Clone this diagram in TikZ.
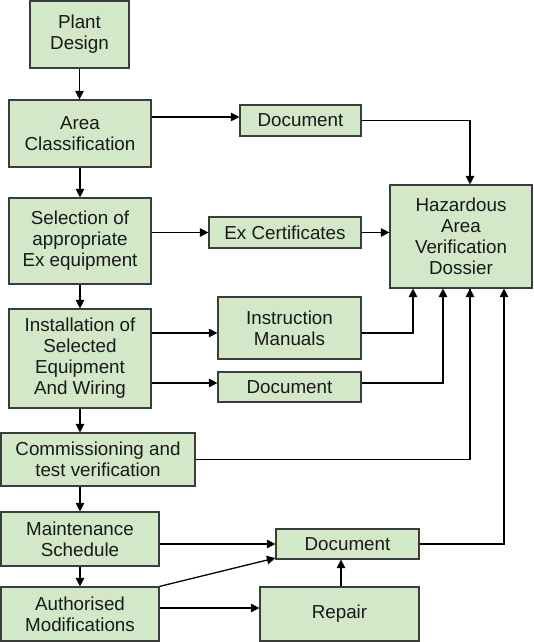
\documentclass[tikz,border=0pt]{standalone}
\usepackage{fontspec}
\setmainfont{Liberation Sans}
\usetikzlibrary{arrows.meta}
\definecolor{boxfill}{RGB}{210,232,200}
\definecolor{boxline}{RGB}{60,60,60}
\definecolor{txt}{RGB}{25,25,25}
\begin{document}
\begin{tikzpicture}[x=1pt,y=-1pt,
  box/.style={draw=boxline,line width=1.2pt,fill=boxfill,rectangle,inner sep=0pt,
    align=center,text=txt,font=\fontsize{18.8}{21}\selectfont},
  conn/.style={line width=1.3pt,draw=black,-{Triangle[length=8.5pt,width=8.5pt]}},
  plain/.style={line width=1.3pt,draw=black}]
\useasboundingbox (0,0) rectangle (533,642);
\node[box,minimum width=99pt,minimum height=67pt] (plant) at (79.5,34.5) {Plant\\Design};
\node[box,minimum width=142pt,minimum height=67pt] (area) at (80,133.5) {Area\\Classification};
\node[box,minimum width=142pt,minimum height=86pt] (sel) at (80,241) {Selection of\\appropriate\\Ex equipment};
\node[box,minimum width=142pt,minimum height=99pt] (inst) at (80,358.5) {Installation of\\Selected\\Equipment\\And Wiring};
\node[box,minimum width=194pt,minimum height=53pt] (comm) at (98,459.5) {Commissioning and\\test verification};
\node[box,minimum width=158pt,minimum height=54pt] (maint) at (80,539) {Maintenance\\Schedule};
\node[box,minimum width=158pt,minimum height=54pt] (auth) at (80,614) {Authorised\\Modifications};
\node[box,minimum width=121pt,minimum height=31pt] (doc1) at (300.5,120.5) {Document};
\node[box,minimum width=152pt,minimum height=31pt] (excert) at (285,232.5) {Ex Certificates};
\node[box,minimum width=142pt,minimum height=103pt] (haz) at (461,236.5) {Hazardous\\Area\\Verification\\Dossier};
\node[box,minimum width=143pt,minimum height=62pt] (im) at (289.5,328) {Instruction\\Manuals};
\node[box,minimum width=143pt,minimum height=30pt] (doc2) at (289.5,387) {Document};
\node[box,minimum width=143pt,minimum height=30pt] (doc3) at (347.5,544) {Document};
\node[box,minimum width=159pt,minimum height=54pt] (repair) at (339.5,614) {Repair};
% helper coordinates
\coordinate (r1) at (0,117);
\coordinate (r2) at (0,333);
\coordinate (r3) at (0,383);
\coordinate (r4) at (0,608);
\coordinate (r5) at (0,558);
\coordinate (c1) at (413,0);
\coordinate (c2) at (443,0);
\coordinate (c3) at (470,0);
\coordinate (c4) at (504,0);
\coordinate (c5) at (341,0);
% main chain
\draw[conn] (plant.south) -- (plant.south |- area.north);
\draw[conn] (area.south) -- (sel.north);
\draw[conn] (sel.south) -- (inst.north);
\draw[conn] (inst.south) -- (inst.south |- comm.north);
\draw[conn] (inst.south |- comm.south) -- (inst.south |- maint.north);
\draw[conn] (maint.south) -- (auth.north);
% side outputs
\draw[conn] (area.east |- r1) -- (doc1.west |- r1);
\draw[conn] (doc1.east) -| (c3 |- haz.north);
\draw[conn] (sel.east |- excert.west) -- (excert.west);
\draw[conn] (excert.east) -- (haz.west |- excert.east);
\draw[conn] (inst.east |- r2) -- (im.west |- r2);
\draw[conn] (im.east |- r2) -| (c1 |- haz.south);
\draw[conn] (inst.east |- r3) -- (doc2.west |- r3);
\draw[conn] (doc2.east |- r3) -| (c2 |- haz.south);
\draw[plain] (comm.east) -| (c3 |- haz.south);
\draw[conn] (c3 |- comm.east) -- (c3 |- haz.south);
\draw[conn] (maint.east |- doc3.west) -- (doc3.west);
\draw[conn] (auth.north east) -- (doc3.west |- r5);
\draw[conn] (auth.east |- r4) -- (repair.west |- r4);
\draw[conn] (c5 |- repair.north) -- (c5 |- doc3.south);
\draw[conn] (doc3.east) -| (c4 |- haz.south);
\end{tikzpicture}
\end{document}
